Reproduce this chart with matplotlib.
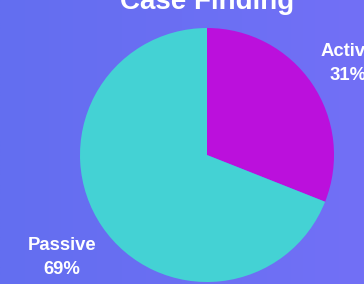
import matplotlib
matplotlib.use("Agg")
import matplotlib.pyplot as plt
import numpy as np
from matplotlib.colors import LinearSegmentedColormap

# Données du graphique
categories = ["Active", "Passive"]
values = [31, 69]
colors = ["#bb10dc", "#44d2d4"]
title = "Case Finding"

plt.rcParams['font.family'] = ['Liberation Sans', 'DejaVu Sans']

fig = plt.figure(figsize=(3.64, 2.84), dpi=100)

# Fond en dégradé
bg = fig.add_axes([0, 0, 1, 1], zorder=0)
grad = np.linspace(0, 1, 256).reshape(1, -1)
cmap = LinearSegmentedColormap.from_list("bg", ["#636ef0", "#7270f6"])
bg.imshow(grad, aspect="auto", cmap=cmap, extent=[0, 1, 0, 1])
bg.axis("off")

# Camembert
ax = fig.add_axes([80 / 364, 2 / 284, 254 / 364, 254 / 284], zorder=1)
labels = [f"{c}\n{v}%" for c, v in zip(categories, values)]
wedges, texts = ax.pie(values, labels=labels, colors=colors, startangle=90,
                       counterclock=False, labeldistance=1.36,
                       textprops=dict(color="white", fontsize=13.3, fontweight="bold"))
for t in texts:
    t.set_ha("center")
    t.set_va("center")
    t.set_linespacing(1.55)
    x, y = t.get_position()
    t.set_position((x - 0.015, y - 0.045))  # léger décalage vers le bas
ax.set_xlim(-1, 1)
ax.set_ylim(-1, 1)
ax.axis("off")

fig.text(207 / 364, 1 - 9 / 284, title, ha="center", va="baseline",
         color="white", fontsize=20, fontweight="bold")

fig.savefig("out.png", dpi=100)
